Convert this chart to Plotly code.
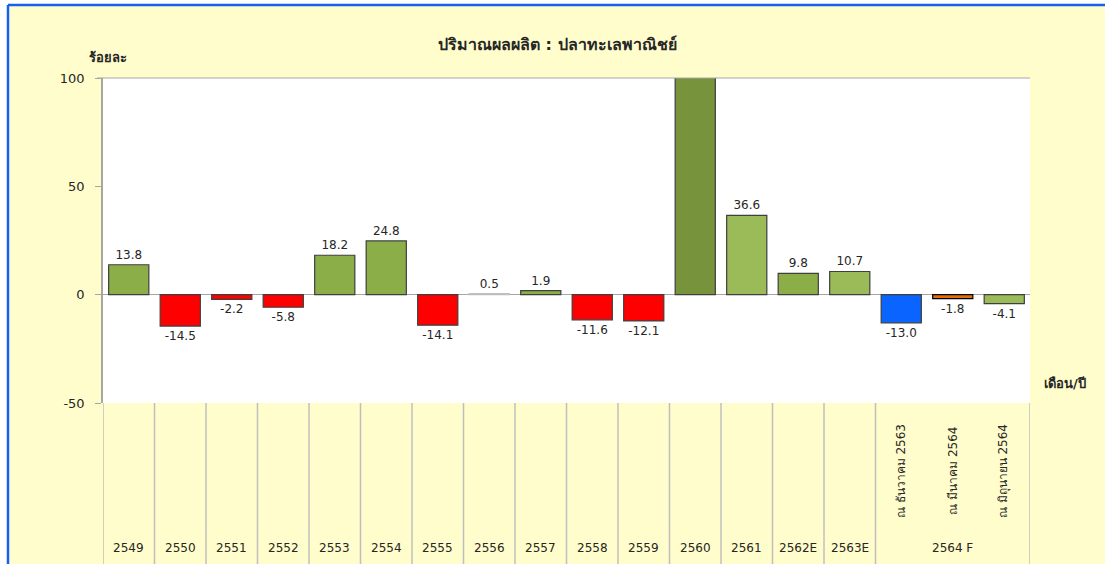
import plotly.graph_objects as go

categories = ["2549", "2550", "2551", "2552", "2553", "2554", "2555", "2556", "2557",
              "2558", "2559", "2560", "2561", "2562E", "2563E",
              "ณ ธันวาคม 2563", "ณ มีนาคม 2564", "ณ มิถุนายน 2564"]
values = [13.8, -14.5, -2.2, -5.8, 18.2, 24.8, -14.1, 0.5, 1.9,
          -11.6, -12.1, 125.0, 36.6, 9.8, 10.7, -13.0, -1.8, -4.1]
value_labels = ["13.8", "-14.5", "-2.2", "-5.8", "18.2", "24.8", "-14.1", "0.5", "1.9",
                "-11.6", "-12.1", "", "36.6", "9.8", "10.7", "-13.0", "-1.8", "-4.1"]
bottom_labels = ["2549", "2550", "2551", "2552", "2553", "2554", "2555", "2556", "2557",
                 "2558", "2559", "2560", "2561", "2562E", "2563E", "", "2564 F", ""]
rotated_labels = ["ณ ธันวาคม 2563", "ณ มีนาคม 2564", "ณ มิถุนายน 2564"]
y_ticks = [100, 50, 0, -50]

GREEN = "#8CAE48"
LGREEN = "#9BBB59"
DGREEN = "#77933C"
RED = "#FF0000"
bar_colors = [GREEN, RED, RED, RED, GREEN, GREEN, RED, "#F2F2F2", GREEN,
              RED, RED, DGREEN, LGREEN, GREEN, LGREEN, "#0A64FF", "#E46C0A", LGREEN]
edge_colors = ["#3F3F3F"] * len(categories)
edge_colors[7] = "#BFBFBF"
edge_colors[16] = "#000000"

FONT = "DejaVu Sans, Tahoma, sans-serif"
TXT = "#262626"
GRAY = "#A6A6A6"

FW, FH = 1105, 564
L, R, T, B = 103, 1030, 78, 403  # px of plot area
W, H = R - L, B - T
def px_x(p): return (p - L) / W
def px_y(p): return (B - p) / H

fig = go.Figure()
fig.add_trace(go.Bar(
    x=categories, y=values, text=value_labels, textposition="outside",
    textfont=dict(size=12, color=TXT, family=FONT), cliponaxis=True,
    marker=dict(color=bar_colors, line=dict(color=edge_colors, width=1.2)),
    width=0.78, hoverinfo="x+y",
))

shapes = []
n = len(categories)
for i in range(n + 1):
    if i in (16, 17):
        continue
    shapes.append(dict(type="line", xref="x", yref="paper", x0=i - 0.5, x1=i - 0.5,
                       y0=0, y1=px_y(580), line=dict(color="#BFBFBF", width=1.5)))
shapes.append(dict(type="line", xref="paper", yref="paper", x0=px_x(97), x1=1,
                   y0=1, y1=1, line=dict(color=GRAY, width=1)))
shapes.append(dict(type="rect", xref="paper", yref="paper", x0=px_x(-5), x1=px_x(7),
                   y0=px_y(600), y1=px_y(-5), fillcolor="white", line=dict(width=0), layer="above"))
shapes.append(dict(type="rect", xref="paper", yref="paper", x0=px_x(-5), x1=px_x(1110),
                   y0=px_y(4), y1=px_y(-5), fillcolor="white", line=dict(width=0), layer="above"))
shapes.append(dict(type="line", xref="paper", yref="paper", x0=px_x(8), x1=px_x(8),
                   y0=px_y(5), y1=px_y(600), line=dict(color="#1560F0", width=2.5)))
shapes.append(dict(type="line", xref="paper", yref="paper", x0=px_x(8), x1=px_x(1110),
                   y0=px_y(5), y1=px_y(5), line=dict(color="#1560F0", width=2.5)))

annotations = []
for i, lab in enumerate(bottom_labels):
    if lab:
        annotations.append(dict(x=i, y=px_y(548), xref="x", yref="paper", text=lab,
                                xanchor="center", yanchor="middle", showarrow=False,
                                font=dict(size=12, color=TXT, family=FONT)))
for lab in rotated_labels:
    annotations.append(dict(x=categories.index(lab), y=px_y(471), xref="x", yref="paper",
                            text=lab, textangle=-90, xanchor="center", yanchor="middle",
                            showarrow=False, font=dict(size=12, color=TXT, family=FONT)))
annotations.append(dict(x=px_x(557), y=px_y(45), xref="paper", yref="paper",
                        xanchor="center", yanchor="middle",
                        text="<b>ปริมาณผลผลิต : ปลาทะเลพาณิชย์</b>", showarrow=False,
                        font=dict(size=16, color=TXT, family=FONT)))
annotations.append(dict(x=px_x(108), y=px_y(57), xref="paper", yref="paper",
                        xanchor="center", yanchor="middle",
                        text="<b>ร้อยละ</b>", showarrow=False,
                        font=dict(size=13, color=TXT, family=FONT)))
annotations.append(dict(x=px_x(1065), y=px_y(383), xref="paper", yref="paper",
                        xanchor="center", yanchor="middle",
                        text="<b>เดือน/ปี</b>", showarrow=False,
                        font=dict(size=13, color=TXT, family=FONT)))

fig.update_layout(
    width=FW, height=FH,
    margin=dict(l=L, r=FW - R, t=T, b=FH - B, pad=0),
    paper_bgcolor="#FFFDCB", plot_bgcolor="white",
    showlegend=False, bargap=0.22,
    shapes=shapes, annotations=annotations,
    xaxis=dict(type="category", categoryorder="array", categoryarray=categories,
               showticklabels=False, showline=False, showgrid=False, zeroline=False,
               ticks="", range=[-0.5, n - 0.5], fixedrange=True),
    yaxis=dict(range=[-50, 100], tickvals=y_ticks, ticktext=[str(v) for v in y_ticks],
               showgrid=False, zeroline=True, zerolinecolor=GRAY, zerolinewidth=1,
               showline=True, linecolor=GRAY, linewidth=1.5,
               ticks="outside", ticklen=6, tickcolor=GRAY, ticklabelstandoff=8,
               tickfont=dict(size=13, color=TXT, family=FONT), fixedrange=True),
)

fig.write_html("out.html", config={"displayModeBar": False},
               post_script="document.body.style.margin='0';document.body.style.overflow='hidden';")
